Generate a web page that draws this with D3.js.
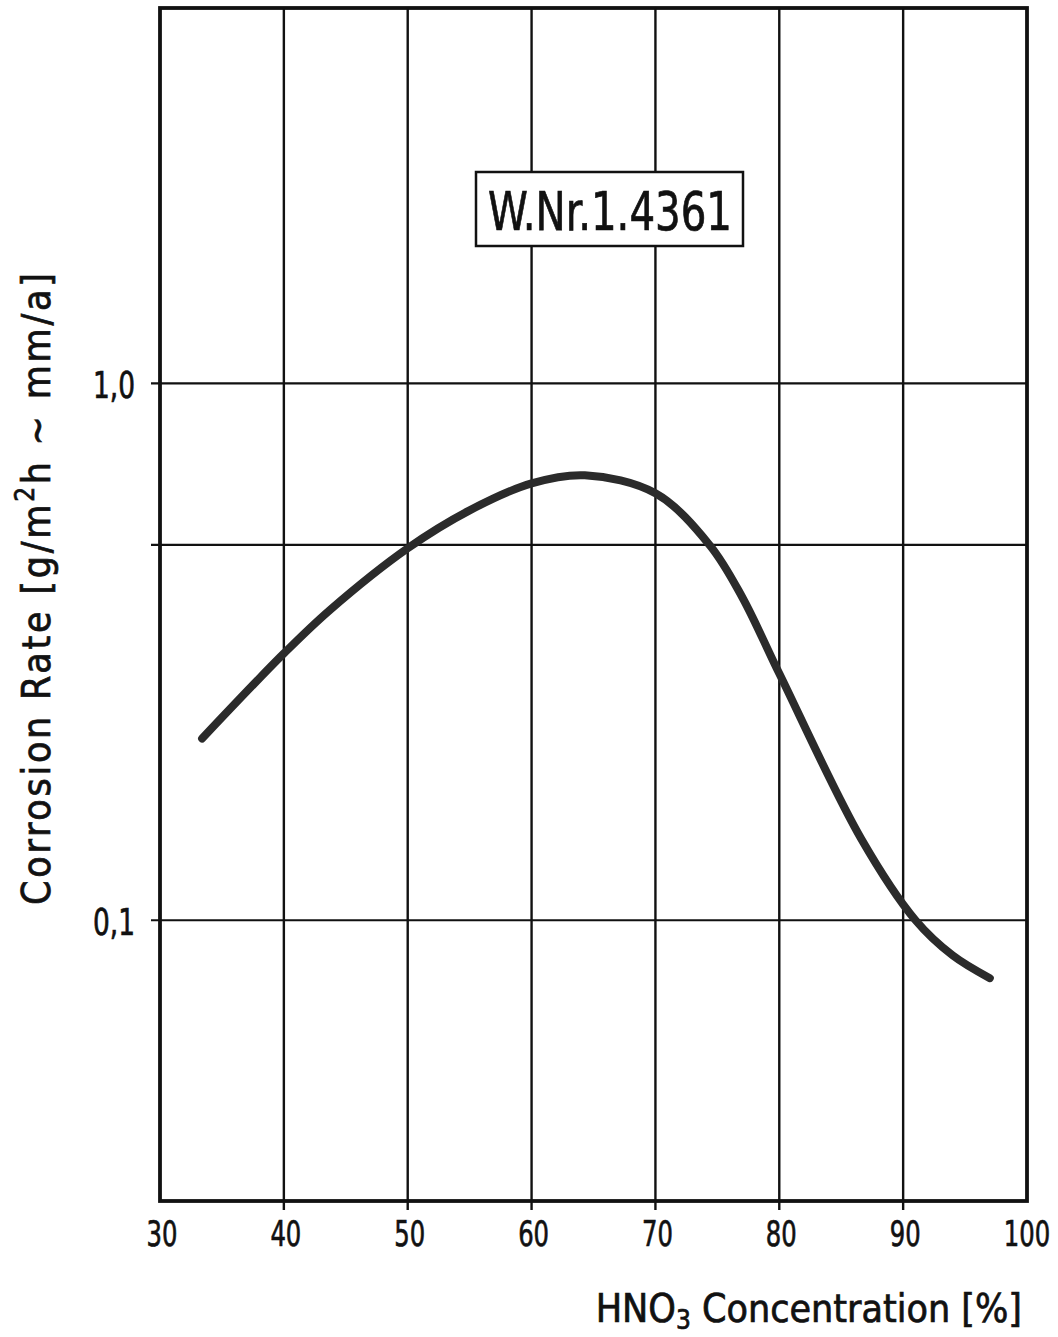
<!DOCTYPE html>
<html>
<head>
<meta charset="utf-8">
<script src="https://cdn.jsdelivr.net/npm/d3@7"></script>
<style>
  html, body { margin: 0; padding: 0; background: #fff; }
  svg { display: block; }
  text { font-family: "DejaVu Sans Condensed", "DejaVu Sans", sans-serif; fill: #111; stroke: #111; stroke-width: 0.7px; }
</style>
</head>
<body>
<svg id="chart" width="1058" height="1337"></svg>
<script>
// ---- data ----
const concentration = [33.4, 40, 43.7, 50, 55, 60, 64.3, 70, 74.4, 77, 80, 86.6, 91, 94, 97];
const corrosionRate = [0.218, 0.314, 0.378, 0.493, 0.580, 0.651, 0.674, 0.624, 0.499, 0.40, 0.288, 0.142, 0.100, 0.086, 0.078];
const xTicks = [30, 40, 50, 60, 70, 80, 90, 100];
const yGrid = [0.1, 0.5, 1.0];
const yLabels = [0.1, 1.0];
const yLabelText = ["0,1", "1,0"];
const seriesLabel = "W.Nr.1.4361";

(function () {
const svg = d3.select("#chart");
const x = d3.scaleLinear().domain([30, 100]).range([160, 1027]);
const y = d3.scaleLog().domain([0.03, 5]).range([1201, 8]);

const pTop = y(5), pBottom = y(0.03), pLeft = x(30), pRight = x(100);

// vertical grid lines + outside ticks
svg.append("g").selectAll("line").data(xTicks.slice(1, -1)).join("line")
  .attr("x1", d => x(d)).attr("x2", d => x(d))
  .attr("y1", pTop).attr("y2", pBottom + 9)
  .attr("stroke", "#111").attr("stroke-width", 2.4);

// horizontal grid lines + outside ticks
svg.append("g").selectAll("line").data(yGrid).join("line")
  .attr("x1", pLeft - 9).attr("x2", pRight)
  .attr("y1", d => y(d)).attr("y2", d => y(d))
  .attr("stroke", "#111").attr("stroke-width", 2.2);

// legend box (white, covers grid)
svg.append("rect")
  .attr("x", 476).attr("y", 172).attr("width", 267).attr("height", 74)
  .attr("fill", "#fff").attr("stroke", "#111").attr("stroke-width", 2.5);
svg.append("text")
  .attr("x", 488).attr("y", 230)
  .attr("font-size", 54)
  .attr("textLength", 244).attr("lengthAdjust", "spacingAndGlyphs")
  .text(seriesLabel);

// frame
svg.append("rect")
  .attr("x", pLeft).attr("y", pTop).attr("width", pRight - pLeft).attr("height", pBottom - pTop)
  .attr("fill", "none").attr("stroke", "#111").attr("stroke-width", 3.8);

// curve
const line = d3.line()
  .x((d, i) => x(concentration[i]))
  .y(d => y(d))
  .curve(d3.curveCatmullRom.alpha(0.5));
svg.append("path")
  .datum(corrosionRate)
  .attr("d", line)
  .attr("fill", "none")
  .attr("stroke", "#2b2b2b")
  .attr("stroke-width", 8)
  .attr("stroke-linecap", "round");

// x tick labels (horizontally condensed via transform)
svg.append("g").selectAll("text").data(xTicks).join("text")
  .attr("transform", d => `translate(${x(d) + (d === 100 ? 0 : 2)},1246) scale(0.75,1)`)
  .attr("text-anchor", "middle")
  .attr("font-size", 36)
  .text(d => d);

// y tick labels
svg.append("g").selectAll("text").data(yLabels).join("text")
  .attr("x", 135)
  .attr("y", d => y(d) + 15)
  .attr("text-anchor", "end")
  .attr("font-size", 38)
  .attr("textLength", 42)
  .attr("lengthAdjust", "spacingAndGlyphs")
  .text((d, i) => yLabelText[i]);

// x axis title
const xt = svg.append("text")
  .attr("x", 1022).attr("y", 1322)
  .attr("text-anchor", "end")
  .attr("font-size", 39);
xt.append("tspan").text("HNO");
xt.append("tspan").attr("font-size", 26).attr("dy", 7).text("3");
xt.append("tspan").attr("dy", -7).text(" Concentration [%]");

// y axis title
const yt = svg.append("text")
  .attr("transform", "translate(50,905) rotate(-90)")
  .attr("font-size", 39)
  .attr("textLength", 632)
  .attr("lengthAdjust", "spacing");
yt.append("tspan").text("Corrosion Rate  [g/m");
yt.append("tspan").attr("font-size", 26).attr("dy", -16).text("2");
yt.append("tspan").attr("dy", 16).text("h  ~  mm/a]");
})();
</script>
</body>
</html>
